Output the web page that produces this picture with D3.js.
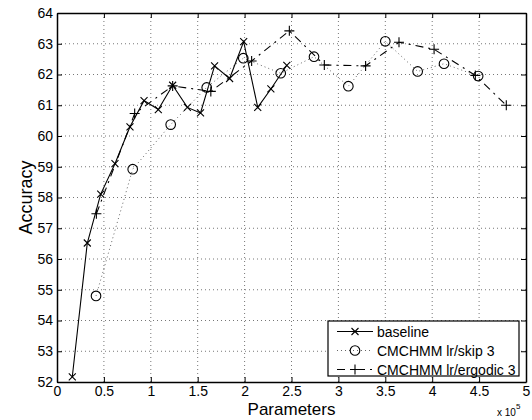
<!DOCTYPE html>
<html>
<head>
<meta charset="utf-8">
<script src="https://d3js.org/d3.v7.min.js"></script>
<style>
  body { margin: 0; background: #fff; }
  svg { display: block; font-family: "Liberation Sans", Arial, sans-serif; }
</style>
</head>
<body>
<div id="chart"></div>
<script>
// Data (x in units of 10^5 parameters)
var baselineX = [0.163, 0.323, 0.466, 0.618, 0.778, 0.928, 1.08, 1.233, 1.39, 1.53, 1.68, 1.84, 1.99, 2.14, 2.28, 2.45];
var baselineY = [52.17, 56.52, 58.11, 59.10, 60.30, 61.15, 60.86, 61.65, 60.93, 60.75, 62.28, 61.87, 63.07, 60.93, 61.53, 62.30];

var skipX = [0.416, 0.807, 1.212, 1.596, 1.986, 2.385, 2.74, 3.106, 3.50, 3.845, 4.126, 4.49];
var skipY = [54.80, 58.92, 60.37, 61.58, 62.53, 62.04, 62.58, 61.62, 63.08, 62.10, 62.35, 61.95];

var ergodicX = [0.42, 0.828, 1.233, 1.64, 2.075, 2.477, 2.85, 3.29, 3.646, 4.02, 4.46, 4.79];
var ergodicY = [57.47, 60.73, 61.63, 61.45, 62.44, 63.42, 62.31, 62.28, 63.05, 62.82, 61.97, 61.00];

var xTicks = [0, 0.5, 1, 1.5, 2, 2.5, 3, 3.5, 4, 4.5, 5];
var yTicks = [52, 53, 54, 55, 56, 57, 58, 59, 60, 61, 62, 63, 64];

var legendLabels = ["baseline", "CMCHMM lr/skip 3", "CMCHMM lr/ergodic 3"];

// Layout
var width = 532, height = 420;
var margin = {top: 13, right: 6, bottom: 38, left: 57};
var w = width - margin.left - margin.right;
var h = height - margin.top - margin.bottom;

var svg = d3.select("#chart").append("svg")
    .attr("width", width)
    .attr("height", height);

svg.append("rect").attr("width", width).attr("height", height).attr("fill", "#fff");

var g = svg.append("g")
    .attr("transform", "translate(" + margin.left + "," + margin.top + ")");

var xScale = d3.scaleLinear().domain([0, 5]).range([0, w]);
var yScale = d3.scaleLinear().domain([52, 64]).range([h, 0]);

// Dotted grid
g.append("g").selectAll("line.gx")
    .data(xTicks.slice(1, -1))
    .enter().append("line")
    .attr("x1", function(d) { return xScale(d); })
    .attr("x2", function(d) { return xScale(d); })
    .attr("y1", 0).attr("y2", h)
    .attr("stroke", "#777").attr("stroke-width", 1)
    .attr("stroke-dasharray", "1,3");

g.append("g").selectAll("line.gy")
    .data(yTicks.slice(1, -1))
    .enter().append("line")
    .attr("y1", function(d) { return yScale(d); })
    .attr("y2", function(d) { return yScale(d); })
    .attr("x1", 0).attr("x2", w)
    .attr("stroke", "#777").attr("stroke-width", 1)
    .attr("stroke-dasharray", "1,3");

// Axes (ticks point inward, mirrored on top and right)
var tickFmt = function(d) { return String(d); };
g.append("g")
    .attr("transform", "translate(0," + h + ")")
    .call(d3.axisBottom(xScale).tickValues(xTicks).tickFormat(tickFmt).tickSizeInner(-5).tickSizeOuter(0).tickPadding(4));
g.append("g")
    .call(d3.axisLeft(yScale).tickValues(yTicks).tickFormat(tickFmt).tickSizeInner(-5).tickSizeOuter(0).tickPadding(4));
g.append("g")
    .call(d3.axisTop(xScale).tickValues(xTicks).tickFormat("").tickSizeInner(-5).tickSizeOuter(0));
g.append("g")
    .attr("transform", "translate(" + w + ",0)")
    .call(d3.axisRight(yScale).tickValues(yTicks).tickFormat("").tickSizeInner(-5).tickSizeOuter(0));

g.selectAll(".domain").attr("stroke", "#000").attr("stroke-width", 1.5);
g.selectAll(".tick line").attr("stroke", "#000");
g.selectAll(".tick text").attr("fill", "#000").style("font-size", "14px")
    .style("font-family", "Liberation Sans, Arial, sans-serif");

// Series
function pts(xs, ys) {
    return xs.map(function(x, i) { return [x, ys[i]]; });
}
var line = d3.line()
    .x(function(d) { return xScale(d[0]); })
    .y(function(d) { return yScale(d[1]); });

var series = [
    {name: legendLabels[0], data: pts(baselineX, baselineY), dash: null, color: "#000", width: 1.1, marker: "x"},
    {name: legendLabels[1], data: pts(skipX, skipY), dash: "1,3", color: "#666", width: 1, marker: "o"},
    {name: legendLabels[2], data: pts(ergodicX, ergodicY), dash: "8,5,2,5", color: "#000", width: 1.1, marker: "+"}
];

function markerPath(type) {
    if (type === "x") return "M-3.5,-3.5L3.5,3.5M-3.5,3.5L3.5,-3.5";
    return "M-5,0L5,0M0,-5L0,5";
}

function drawMarker(sel, type) {
    if (type === "o") {
        sel.append("circle").attr("r", 4.8)
            .attr("fill", "none").attr("stroke", "#000").attr("stroke-width", 1.1);
    } else {
        sel.append("path").attr("d", markerPath(type))
            .attr("fill", "none").attr("stroke", "#000").attr("stroke-width", 1.1);
    }
}

series.forEach(function(s) {
    g.append("path")
        .datum(s.data)
        .attr("d", line)
        .attr("fill", "none")
        .attr("stroke", s.color)
        .attr("stroke-width", s.width)
        .attr("stroke-dasharray", s.dash);

    g.append("g").selectAll("g")
        .data(s.data)
        .enter().append("g")
        .attr("transform", function(d) { return "translate(" + xScale(d[0]) + "," + yScale(d[1]) + ")"; })
        .each(function() { drawMarker(d3.select(this), s.marker); });
});

// Legend
var legend = svg.append("g").attr("transform", "translate(328,321)");
legend.append("rect")
    .attr("width", 191).attr("height", 55)
    .attr("fill", "#fff").attr("stroke", "#000").attr("stroke-width", 1.2);

series.forEach(function(s, i) {
    var ly = 10.5 + i * 19;
    var row = legend.append("g").attr("transform", "translate(0," + ly + ")");
    row.append("line")
        .attr("x1", 9).attr("x2", 45).attr("y1", 0).attr("y2", 0)
        .attr("stroke", s.color).attr("stroke-width", s.width)
        .attr("stroke-dasharray", s.dash);
    drawMarker(row.append("g").attr("transform", "translate(27,0)"), s.marker);
    row.append("text")
        .attr("x", 49).attr("y", 5)
        .attr("font-size", "14px")
        .text(s.name);
});

// Axis labels
svg.append("text")
    .attr("x", margin.left + w / 2).attr("y", 415)
    .attr("text-anchor", "middle")
    .attr("font-size", "17px")
    .text("Parameters");

svg.append("text")
    .attr("transform", "translate(32," + (margin.top + h / 2) + ") rotate(-90)")
    .attr("text-anchor", "middle")
    .attr("font-size", "18px")
    .text("Accuracy");

// Exponent note
var expo = svg.append("text")
    .attr("x", 497).attr("y", 416)
    .attr("font-size", "10px");
expo.append("tspan").text("x 10");
expo.append("tspan").attr("dy", -7).attr("font-size", "8px").text("5");
</script>
</body>
</html>
